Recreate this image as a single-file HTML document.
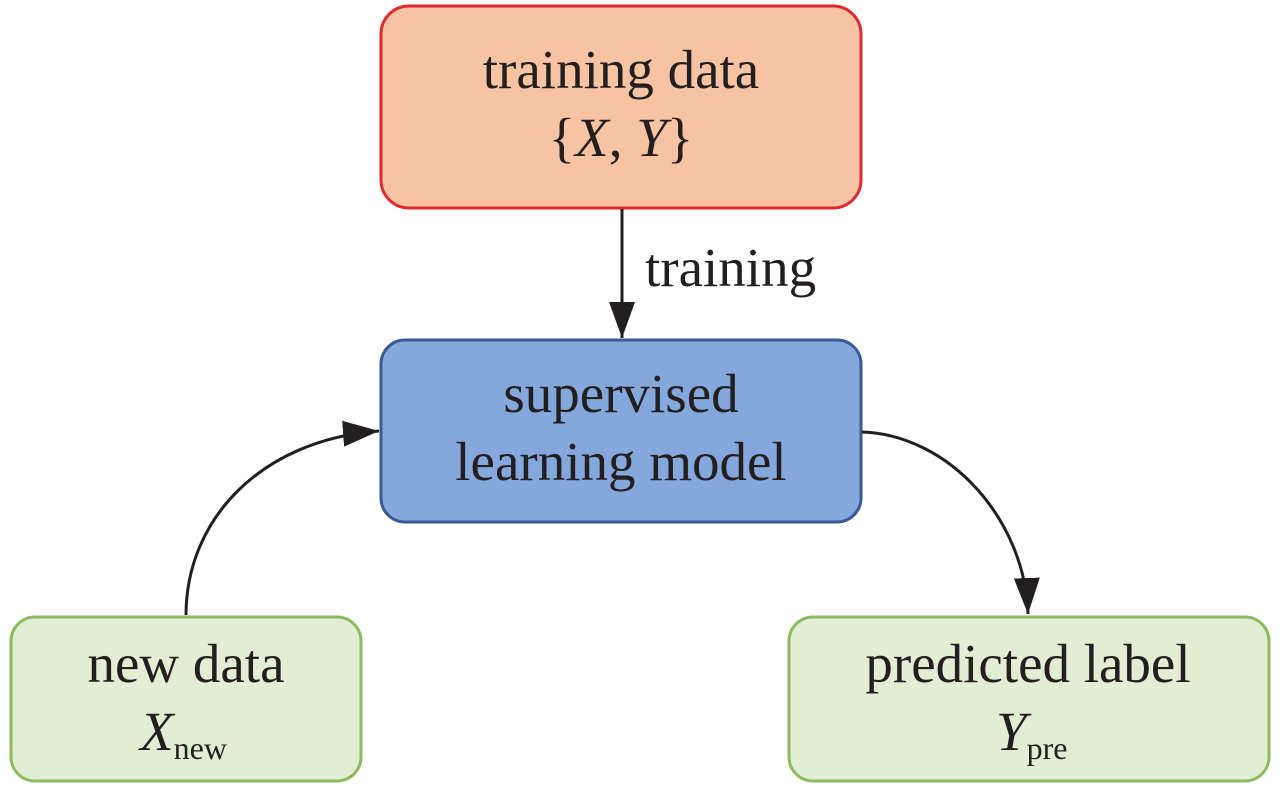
<!DOCTYPE html>
<html><head><style>
body{margin:0;width:1280px;height:787px;background:#fff;overflow:hidden}
svg text{font-family:"Liberation Serif",serif;font-size:55px;fill:#231f20}
</style></head><body>
<svg width="1280" height="787" viewBox="0 0 1280 787">
<defs>
<marker id="b" markerWidth="38" markerHeight="26" refX="36" refY="13" orient="auto" markerUnits="userSpaceOnUse"><path d="M0,0 L36,13 L0,26 Z" fill="#231f20"/></marker></defs>
<rect x="381" y="6" width="480" height="202" rx="28" fill="#f7c3a3" stroke="#e0282f" stroke-width="3"/>
<rect x="381" y="340" width="480" height="182" rx="24" fill="#85a8dc" stroke="#3a5a94" stroke-width="3"/>
<rect x="11" y="617" width="350" height="164" rx="24" fill="#e3edd3" stroke="#8db960" stroke-width="3"/>
<rect x="789" y="617" width="480" height="164" rx="24" fill="#e3edd3" stroke="#8db960" stroke-width="3"/>
<path d="M622 209 L622 338" stroke="#231f20" stroke-width="3" fill="none" marker-end="url(#b)"/>
<path d="M186 615 C186 520 260 440 379 431" stroke="#231f20" stroke-width="3" fill="none" marker-end="url(#b)"/>
<path d="M862 432 C950 435 1025 520 1028 614" stroke="#231f20" stroke-width="3" fill="none" marker-end="url(#b)"/>
<text x="621" y="88" text-anchor="middle">training data</text>
<text x="621" y="156" text-anchor="middle">{<tspan font-style="italic">X</tspan>, <tspan font-style="italic">Y</tspan>}</text>
<text x="645" y="286">training</text>
<text x="621" y="412" text-anchor="middle">supervised</text>
<text x="621" y="480" text-anchor="middle">learning model</text>
<text x="186" y="682" text-anchor="middle">new data</text>
<text x="140" y="750" font-style="italic">X<tspan font-style="normal" font-size="32" dy="9">new</tspan></text>
<text x="1028" y="682" text-anchor="middle">predicted label</text>
<text x="996" y="750" font-style="italic">Y<tspan font-style="normal" font-size="32" dy="9">pre</tspan></text>
</svg>
</body></html>
